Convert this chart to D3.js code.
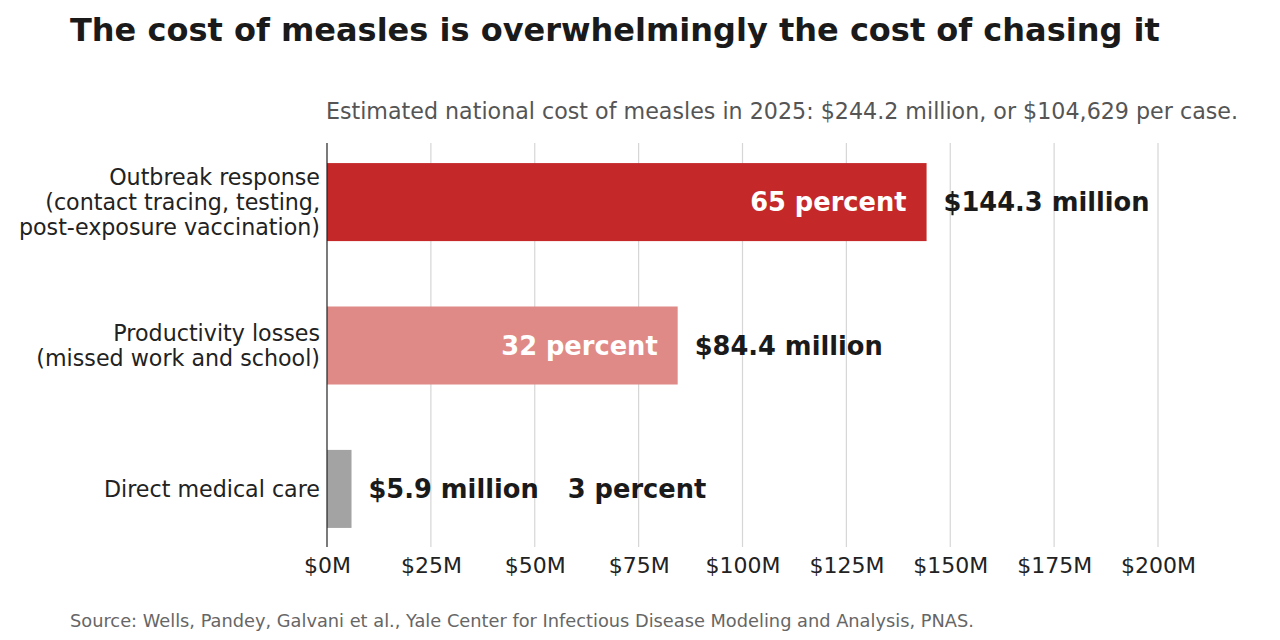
<!DOCTYPE html>
<html><head><meta charset="utf-8">
<script src="https://cdn.jsdelivr.net/npm/d3@7"></script>
<style>body{margin:0;background:#fff}text{font-family:"DejaVu Sans",sans-serif}</style>
</head><body><svg id="c" width="1280" height="640"></svg>
<script>
// data
var categories = [
  ["Outbreak response", "(contact tracing, testing,", "post-exposure vaccination)"],
  ["Productivity losses", "(missed work and school)"],
  ["Direct medical care"]
]
var values = [144.3, 84.4, 5.9]
var percents = [65, 32, 3]
var colors = ['#c42828', '#e08a88', '#a3a3a3']
var ticks = [0, 25, 50, 75, 100, 125, 150, 175, 200]

var svg = d3.select('#c')
var x = d3.scaleLinear().domain([0, 200]).range([327, 1158])
var y = d3.scaleBand().domain(d3.range(values.length)).range([143, 548]).paddingInner(0.456).paddingOuter(0.14)

// grid
svg.selectAll('line.g').data(ticks.slice(1)).join('line')
  .attr('x1', d => x(d)).attr('x2', d => x(d)).attr('y1', 143).attr('y2', 547)
  .attr('stroke', '#d6d6d6').attr('stroke-width', 1.2)

var ax = svg.append('g').attr('transform', 'translate(0,547)')
  .call(d3.axisBottom(x).tickValues(ticks).tickSize(0).tickFormat(d => '$' + d + 'M'))
ax.select('.domain').remove()
ax.selectAll('text').attr('font-size', 22).attr('fill', '#222').attr('dy', '1.05em').style('font-family', '"DejaVu Sans",sans-serif')

svg.selectAll('rect.b').data(values).join('rect')
  .attr('x', x(0)).attr('y', (d, i) => y(i)).attr('width', d => x(d) - x(0)).attr('height', y.bandwidth())
  .attr('fill', (d, i) => colors[i])

svg.append('line').attr('x1', 327).attr('x2', 327).attr('y1', 143).attr('y2', 547).attr('stroke', '#222').attr('stroke-width', 1.2)

values.forEach(function(v, i) {
  var cy = y(i) + y.bandwidth() / 2 + 9
  var vt = svg.append('text').attr('x', x(v) + 17).attr('y', cy).attr('font-size', 25.7).attr('font-weight', 'bold')
    .attr('fill', '#1a1a1a').text('$' + v + ' million')
  if (i < 2) {
    svg.append('text').attr('x', x(v) - 20).attr('y', cy).attr('text-anchor', 'end').attr('font-size', 25.7)
      .attr('font-weight', 'bold').attr('fill', '#fff').text(percents[i] + ' percent')
  } else {
    svg.append('text').attr('x', x(v) + 17 + vt.node().getComputedTextLength() + 29).attr('y', cy).attr('font-size', 25.7)
      .attr('font-weight', 'bold').attr('fill', '#1a1a1a').text(percents[i] + ' percent')
  }
  var lines = categories[i]
  var t = svg.append('text').attr('text-anchor', 'end').attr('font-size', 22.2).attr('fill', '#222')
  lines.forEach(function(l, j) {
    t.append('tspan').attr('x', 320).attr('y', y(i) + y.bandwidth() / 2 + 8 + (j - (lines.length - 1) / 2) * 25).text(l)
  })
})

svg.append('text').attr('x', 70).attr('y', 41).attr('font-size', 32).attr('font-weight', 'bold').attr('fill', '#1a1a1a')
  .text('The cost of measles is overwhelmingly the cost of chasing it')
svg.append('text').attr('x', 1238).attr('y', 119).attr('text-anchor', 'end').attr('font-size', 22.2).attr('fill', '#555')
  .text('Estimated national cost of measles in 2025: $244.2 million, or $104,629 per case.')
svg.append('text').attr('x', 70).attr('y', 627).attr('font-size', 17.8).attr('fill', '#666')
  .text('Source: Wells, Pandey, Galvani et al., Yale Center for Infectious Disease Modeling and Analysis, PNAS.')
</script></body></html>
